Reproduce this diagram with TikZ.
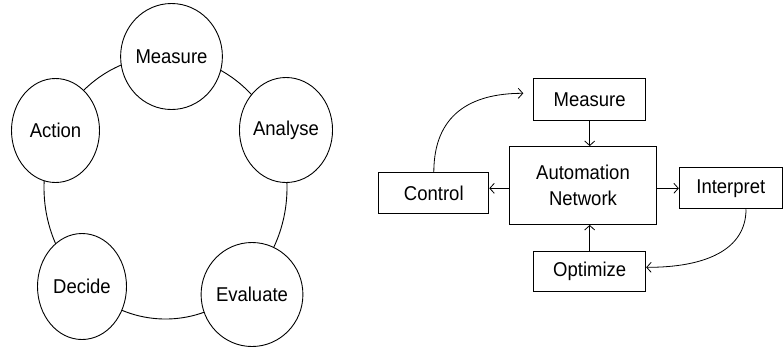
\documentclass[tikz,border=0pt]{standalone}
\usepackage{fontspec}
\setmainfont[FakeStretch=0.925]{Liberation Sans}
\usetikzlibrary{arrows.meta,shapes.geometric}
\begin{document}
\begin{tikzpicture}[x=1pt,y=-1pt,
  line width=0.9pt,
  >={Straight Barb[length=4.5pt,width=10pt]},
  lbl/.style={font=\fontsize{20}{26}\selectfont},
  stage/.style={lbl,ellipse,draw,fill=white,inner sep=0pt},
  blockbox/.style={lbl,rectangle,draw,fill=white,inner sep=0pt,align=center},
  arr/.style={->,line width=0.8pt}]
\useasboundingbox (0,0) rectangle (783,349);

% ---- improvement cycle ----
\draw (165.5,187.5) ellipse [x radius=121.5, y radius=131.5];
\node[stage,minimum width=88pt,minimum height=106pt] (cMeasure)  at (171.5,56.5)  {Measure};
\node[stage,minimum width=88pt,minimum height=104pt] (cAction)   at (55.5,130.5)  {Action};
\node[stage,minimum width=86pt,minimum height=105pt] (cAnalyse)  at (286,130)     {Analyse};
\node[stage,minimum width=89pt,minimum height=106pt] (cDecide)   at (82,286.5)    {Decide};
\node[stage,minimum width=89pt,minimum height=104pt] (cEvaluate) at (252,294.5)   {Evaluate};

% ---- automation network loop ----
\node[blockbox,minimum width=112pt,minimum height=42pt]  (bMeasure)   at (589.7,99.5)  {Measure};
\node[blockbox,minimum width=147pt,minimum height=78pt]  (bAuto)      at (583,185.5)   {Automation\\Network};
\node[blockbox,minimum width=110pt,minimum height=41pt]  (bControl)   at (433.8,193.3) {Control};
\node[blockbox,minimum width=103pt,minimum height=41pt]  (bInterpret) at (730.8,188.3) {Interpret};
\node[blockbox,minimum width=112pt,minimum height=40pt]  (bOptimize)  at (589.7,271.3) {Optimize};

\coordinate (toMeasure) at (523.3,93.3);

\draw[arr] (bMeasure.south) -- (bMeasure.south |- bAuto.north);
\draw[arr] (bOptimize.north) -- (bOptimize.north |- bAuto.south);
\draw[arr] ([yshift=-2.8pt]bAuto.west) -- ([yshift=-2.8pt]bAuto.west -| bControl.east);
\draw[arr] ([yshift=-2.8pt]bAuto.east) -- ([yshift=-2.8pt]bAuto.east -| bInterpret.west);
\draw[arr] (bControl.north) .. controls (433.8,115) and (470,93.3) .. (toMeasure);
\draw[arr] ([xshift=15.2pt]bInterpret.south) .. controls (746,250) and (705,267.5) .. ([yshift=4pt]bOptimize.east);
\end{tikzpicture}
\end{document}
